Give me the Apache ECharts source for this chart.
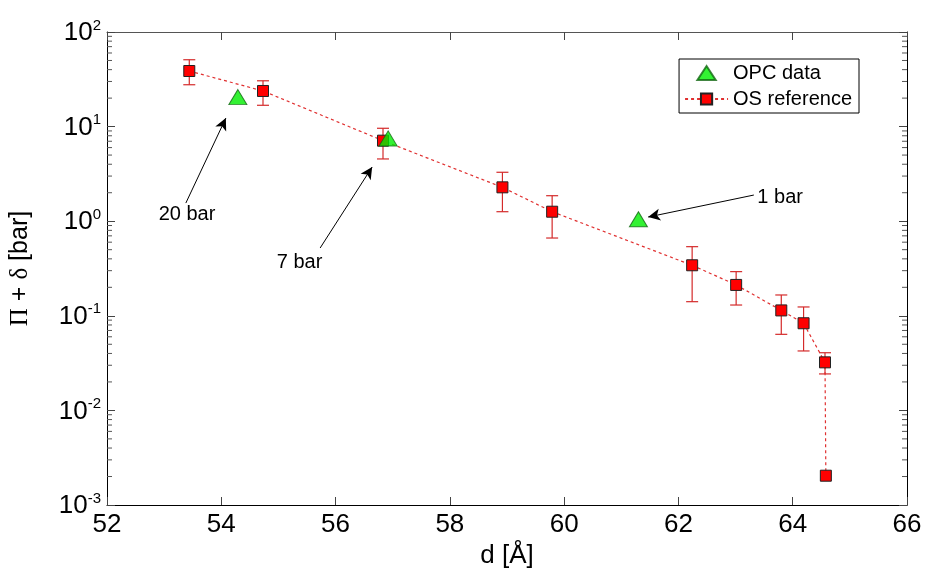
<!DOCTYPE html>
<html>
<head>
<meta charset="utf-8">
<script src="https://cdn.jsdelivr.net/npm/echarts@6/dist/echarts.min.js"></script>
<style>html,body{margin:0;padding:0;background:#fff}#c{width:925px;height:570px}</style>
</head>
<body>
<div id="c"></div>
<script>
// OS reference data
var osD = [53.44, 54.73, 56.83, 58.92, 59.79, 62.24, 63.01, 63.80, 64.19, 64.565, 64.58];
var osVal = [38.7, 23.8, 7.1, 2.28, 1.26, 0.342, 0.212, 0.114, 0.0834, 0.0322, 0.00204];
var osLow = [27.7, 16.8, 4.55, 1.26, 0.664, 0.141, 0.13, 0.0637, 0.0425, 0.0243, null];
var osHigh = [50.9, 30.5, 9.6, 3.29, 1.86, 0.538, 0.293, 0.166, 0.124, 0.0407, null];
// OPC data
var opcD = [54.29, 56.92, 61.30];
var opcVal = [20.5, 7.5, 1.05];
// annotations
var annText = ['20 bar', '7 bar', '1 bar'];
var annTextD = [53.40, 55.37, 63.78];
var annTextV = [1.19, 0.37, 1.80];
var arrowFromD = [53.38, 55.73, 63.32];
var arrowFromV = [1.556, 0.521, 1.89];
var arrowToD = [54.08, 56.64, 61.47];
var arrowToV = [12.3, 3.74, 1.107];
// axes
var xTicks = [52, 54, 56, 58, 60, 62, 64, 66];
var yMin = 0.001, yMax = 100;
var minorDecades = [0.001, 0.01, 0.1, 1, 10];
var minorMult = [2, 3, 4, 5, 6, 7, 8, 9];

var FONT = 'Liberation Sans, Arial, sans-serif';
var chart = echarts.init(document.getElementById('c'));

var osData = osD.map(function (d, i) { return [d, osVal[i]]; });
var errData = [];
osD.forEach(function (d, i) { if (osLow[i] != null) errData.push([d, osLow[i], osHigh[i]]); });
var opcData = opcD.map(function (d, i) { return [d, opcVal[i]]; });
var annData = annText.map(function (t, i) { return { name: t, value: [annTextD[i], annTextV[i]] }; });
var arrows = arrowFromD.map(function (d, i) {
  return [{ coord: [d, arrowFromV[i]] }, { coord: [arrowToD[i], arrowToV[i]] }];
});
var minorData = [];
minorDecades.forEach(function (dec) { minorMult.forEach(function (m) { minorData.push([xTicks[0], m * dec]); }); });

function supLabel(v) {
  var e = Math.round(Math.log10(v));
  return '{b|10}{s|' + e + '}';
}

var yLabel = {
  margin: 6, color: '#000',
  formatter: supLabel,
  rich: {
    b: { fontSize: 26, fontFamily: FONT, color: '#000', lineHeight: 28, verticalAlign: 'bottom' },
    s: { fontSize: 15, fontFamily: FONT, color: '#000', lineHeight: 15, verticalAlign: 'top' }
  }
};

var tickStyle = { color: '#444', width: 1 };

var option = {
  animation: false,
  backgroundColor: '#fff',
  textStyle: { fontFamily: FONT },
  grid: { left: 107, right: 18, top: 32, bottom: 65, outerBoundsMode: 'none', containLabel: false },
  legend: {
    data: [
      { name: 'OPC data', icon: 'path://M0,13L8.5,0L17,13Z' },
      { name: 'OS reference' }
    ],
    symbolKeepAspect: true,
    orient: 'vertical', top: 59, right: 66,
    borderColor: '#000', borderWidth: 1, borderRadius: 0,
    padding: [4, 7, 4, 5], itemGap: 6,
    itemWidth: 43, itemHeight: 14,
    textStyle: { fontSize: 20, color: '#000', fontFamily: FONT }
  },
  xAxis: [{
    type: 'value', min: 52, max: 66, interval: 2,
    name: 'd [Å]', nameLocation: 'middle', nameGap: 37,
    nameTextStyle: { fontSize: 26, color: '#000', fontFamily: FONT },
    axisLine: { show: true, lineStyle: { color: '#000', width: 1 } },
    axisTick: { show: true, inside: true, length: 8, lineStyle: tickStyle },
    axisLabel: { fontSize: 26, color: '#000', margin: 7, fontFamily: FONT },
    splitLine: { show: false }
  }, {
    type: 'value', min: 52, max: 66, interval: 2, position: 'top',
    axisLine: { show: true, lineStyle: { color: '#555', width: 1 } },
    axisTick: { show: true, inside: true, length: 8, lineStyle: tickStyle },
    axisLabel: { show: false }, splitLine: { show: false }
  }],
  yAxis: [{
    type: 'log', logBase: 10, min: yMin, max: yMax,
    name: '{g|Π} + {g|δ} [bar]', nameLocation: 'middle', nameGap: 74,
    nameTextStyle: {
      fontSize: 25, color: '#000', fontFamily: FONT,
      rich: { g: { fontSize: 25, fontFamily: 'Liberation Serif, serif', color: '#000' } }
    },
    axisLine: { show: true, lineStyle: { color: '#000', width: 1 } },
    axisTick: { show: true, inside: true, length: 8, lineStyle: tickStyle },
    axisLabel: yLabel,
    splitLine: { show: false }
  }, {
    type: 'log', logBase: 10, min: yMin, max: yMax, position: 'right',
    axisLine: { show: true, lineStyle: { color: '#000', width: 1 } },
    axisTick: { show: true, inside: true, length: 8, lineStyle: tickStyle },
    axisLabel: { show: false }, splitLine: { show: false }
  }],
  series: [{
    name: 'minorTicks', type: 'custom', xAxisIndex: 0, yAxisIndex: 0, z: 1,
    silent: true, clip: false,
    encode: { x: 0, y: 1 },
    data: minorData,
    renderItem: function (params, api) {
      var p = api.coord([api.value(0), api.value(1)]);
      var cs = params.coordSys;
      var st = { stroke: '#555', lineWidth: 1 };
      var L = 5;
      return {
        type: 'group',
        children: [
          { type: 'line', shape: { x1: cs.x, y1: p[1], x2: cs.x + L, y2: p[1] }, style: st },
          { type: 'line', shape: { x1: cs.x + cs.width - L, y1: p[1], x2: cs.x + cs.width, y2: p[1] }, style: st }
        ]
      };
    }
  }, {
    name: 'errbars', type: 'custom', xAxisIndex: 0, yAxisIndex: 0, z: 2,
    encode: { x: 0, y: [1, 2] },
    data: errData,
    renderItem: function (params, api) {
      var x = api.value(0), lo = api.value(1), hi = api.value(2);
      var pL = api.coord([x, lo]), pH = api.coord([x, hi]);
      var w = 6;
      var st = { stroke: '#d42a2a', lineWidth: 1.2 };
      return {
        type: 'group',
        children: [
          { type: 'line', shape: { x1: pL[0], y1: pL[1], x2: pH[0], y2: pH[1] }, style: st },
          { type: 'line', shape: { x1: pL[0] - w, y1: pL[1], x2: pL[0] + w, y2: pL[1] }, style: st },
          { type: 'line', shape: { x1: pH[0] - w, y1: pH[1], x2: pH[0] + w, y2: pH[1] }, style: st }
        ]
      };
    }
  }, {
    name: 'OS reference', type: 'line', xAxisIndex: 0, yAxisIndex: 0, z: 3,
    data: osData,
    symbol: 'rect', symbolSize: 11,
    itemStyle: { color: '#ff0000', borderColor: '#222', borderWidth: 1 },
    lineStyle: { color: '#e03030', width: 1.2, type: [3, 3] }
  }, {
    name: 'OPC data', type: 'scatter', xAxisIndex: 0, yAxisIndex: 0, z: 4,
    data: opcData,
    symbol: 'triangle', symbolSize: [18, 15],
    itemStyle: { color: '#00ee00', borderColor: '#116611', borderWidth: 1 },
    markLine: {
      silent: true, symbol: ['none', 'arrow'], symbolSize: [9, 12],
      label: { show: false },
      lineStyle: { color: '#000', width: 1, type: 'solid' },
      data: arrows
    }
  }, {
    name: 'ann', type: 'scatter', xAxisIndex: 0, yAxisIndex: 0, z: 5,
    data: annData, symbolSize: 0, silent: true,
    itemStyle: { opacity: 1 },
    label: {
      show: true, position: 'inside', formatter: '{b}',
      fontSize: 20, color: '#000', fontFamily: FONT,
      textBorderWidth: 0, opacity: 1
    }
  }]
};
chart.setOption(option);
</script>
</body>
</html>
